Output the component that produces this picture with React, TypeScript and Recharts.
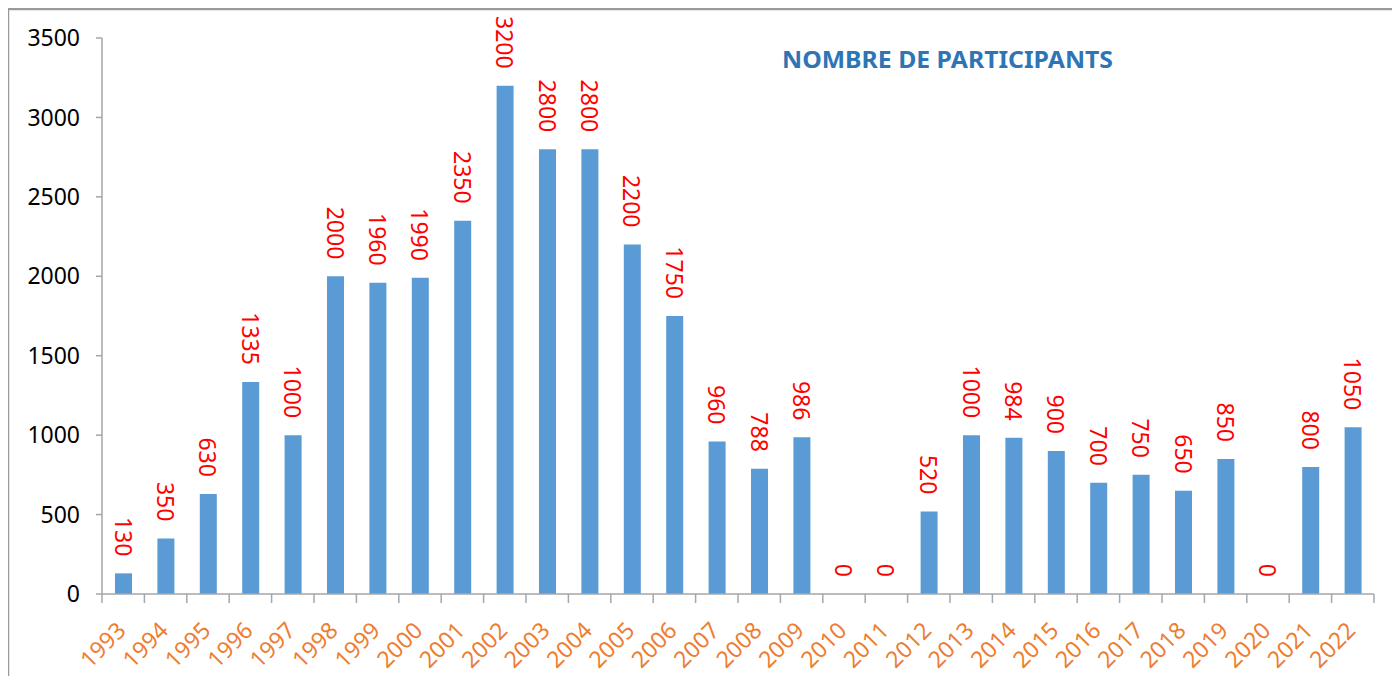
import React from 'react';
import { BarChart, Bar, XAxis, YAxis, LabelList, ReferenceDot } from 'recharts';

const years = [
    '1993', '1994', '1995', '1996', '1997', '1998', '1999', '2000', '2001', '2002',
    '2003', '2004', '2005', '2006', '2007', '2008', '2009', '2010', '2011', '2012',
    '2013', '2014', '2015', '2016', '2017', '2018', '2019', '2020', '2021', '2022',
];
const participants = [
    130, 350, 630, 1335, 1000, 2000, 1960, 1990, 2350, 3200,
    2800, 2800, 2200, 1750, 960, 788, 986, 0, 0, 520,
    1000, 984, 900, 700, 750, 650, 850, 0, 800, 1050,
];
const yTicks = [0, 500, 1000, 1500, 2000, 2500, 3000, 3500];
const title = 'NOMBRE DE PARTICIPANTS';

const data = years.map((year, i) => ({ year, value: participants[i] }));
const zeroYears = data.filter((d) => d.value === 0);

// chart covers the whole page, body margin cancelled on the wrapper
const W = 1400;
const H = 684;
const margin = { top: 38, right: 26, bottom: 10, left: 8 };
const yAxisWidth = 94;
const plotWidth = W - margin.left - margin.right - yAxisWidth;
const band = plotWidth / years.length;
const axisColor = '#a6a6a6';
const frameColor = '#9a9a9a';
const font = '"Noto Sans", "Open Sans", sans-serif';
const labelGap = 17;

const XTick = (props: any) => {
    const { x, y, payload, index } = props;
    const isLast = index === years.length - 1;
    return (
        <g>
            <line x1={x - band / 2} y1={y} x2={x - band / 2} y2={y + 9} stroke={axisColor} strokeWidth={1.5} />
            {isLast && (
                <line x1={x + band / 2} y1={y} x2={x + band / 2} y2={y + 9} stroke={axisColor} strokeWidth={1.5} />
            )}
            <text
                x={x + 4}
                y={y + 38}
                transform={`rotate(-45, ${x + 4}, ${y + 38})`}
                textAnchor="end"
                fill="#ED7D31"
                fontSize={23}
                fontFamily={font}
            >
                {payload.value}
            </text>
        </g>
    );
};

const ValueText = ({ cx, top, value }: { cx: number; top: number; value: any }) => {
    const ty = top - labelGap;
    return (
        <text
            x={cx}
            y={ty}
            transform={`rotate(90, ${cx}, ${ty})`}
            textAnchor="end"
            dominantBaseline="central"
            fill="#FF0000"
            fontSize={23}
            fontFamily={font}
        >
            {String(value)}
        </text>
    );
};

const BarLabel = (props: any) => {
    const { x, y, width, value } = props;
    if (!value) return null;
    return <ValueText cx={x + width / 2} top={y} value={value} />;
};

const ZeroLabel = (props: any) => {
    const { cx, cy } = props;
    return <ValueText cx={cx} top={cy} value={0} />;
};

export default function App() {
    return (
        <div style={{ position: 'relative', width: W, height: H, margin: -8 }}>
            <BarChart width={W} height={H} data={data} margin={margin}>
                {/* top rule and chart frame */}
                <path d="M8,1.5H240" stroke="#000" strokeWidth={2} fill="none" />
                <path d={`M8,${H}V9H${W}`} stroke={frameColor} strokeWidth={2.5} fill="none" />
                <text
                    x={782}
                    y={68}
                    textLength={331}
                    lengthAdjust="spacingAndGlyphs"
                    fill="#2E75B6"
                    fontSize={23}
                    fontWeight="bold"
                    fontFamily={font}
                >
                    {title}
                </text>
                <YAxis
                    width={yAxisWidth}
                    domain={[0, 3500]}
                    ticks={yTicks}
                    interval={0}
                    axisLine={{ stroke: axisColor, strokeWidth: 1.5 }}
                    tickLine={{ stroke: axisColor, strokeWidth: 1.5 }}
                    tickSize={6}
                    tickMargin={16}
                    tick={{ fill: '#000', fontSize: 23, fontFamily: font }}
                />
                <XAxis
                    dataKey="year"
                    height={80}
                    interval={0}
                    axisLine={{ stroke: axisColor, strokeWidth: 1.5 }}
                    tickLine={false}
                    tickSize={0}
                    tickMargin={0}
                    tick={<XTick />}
                />
                <Bar dataKey="value" fill="#5B9BD5" barSize={17} isAnimationActive={false}>
                    <LabelList dataKey="value" content={<BarLabel />} />
                </Bar>
                {zeroYears.map((d) => (
                    <ReferenceDot
                        key={d.year}
                        x={d.year}
                        y={d.value}
                        r={0}
                        ifOverflow="visible"
                        shape={<ZeroLabel />}
                    />
                ))}
            </BarChart>
        </div>
    );
}
